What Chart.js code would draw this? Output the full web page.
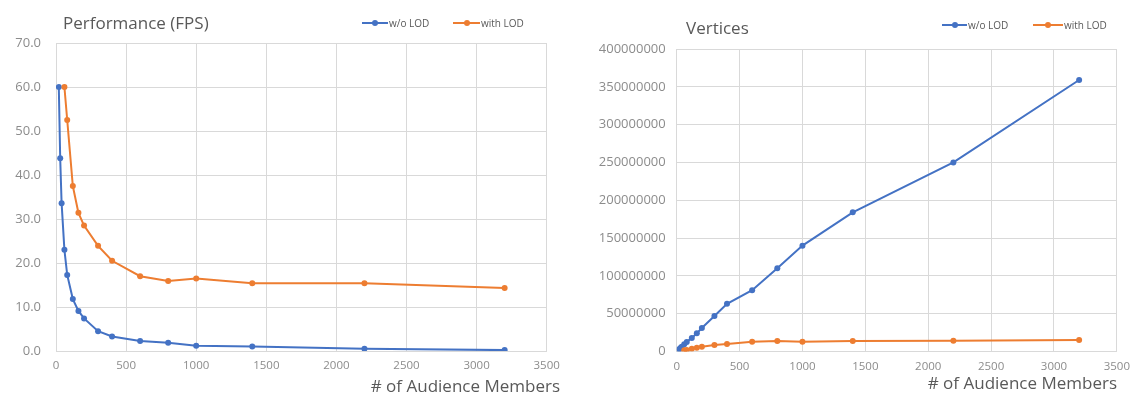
<!DOCTYPE html>
<html>
<head>
<meta charset="utf-8">
<title>LOD performance</title>
<script src="https://cdn.jsdelivr.net/npm/chart.js@4.4.0/dist/chart.umd.min.js"></script>
<style>
    body { margin: 0; background: #fff; width: 1138px; height: 400px; overflow: hidden; font-family: "Open Sans", sans-serif; }
    .panel { position: absolute; top: 0; height: 400px; }
    .title, .axis-title { position: absolute; color: #595959; font-size: 17px; line-height: 20px; white-space: nowrap; }
    .axis-title { text-align: right; }
    .legend-item { position: absolute; font-size: 10px; line-height: 12px; color: #595959; white-space: nowrap; display: flex; align-items: center; }
    .key { position: relative; display: inline-block; height: 2px; margin-right: 1px; }
    .key::after { content: ""; position: absolute; left: 50%; top: 50%; width: 6px; height: 6px; margin: -3px 0 0 -3px; border-radius: 50%; background: inherit; }
</style>
</head>
<body>
<div class="panel" style="left:0;width:570px"><canvas id="fpsChart"></canvas></div>
<div class="panel" style="left:570px;width:568px"><canvas id="vertChart"></canvas></div>

<div class="title" style="left:63px;top:13px">Performance (FPS)</div>
<div class="legend-item" style="left:362px;top:17px"><span class="key" style="width:26px;background:#4472C4"></span>w/o LOD</div>
<div class="legend-item" style="left:453px;top:17px"><span class="key" style="width:27px;background:#ED7D31"></span>with LOD</div>
<div class="axis-title" style="right:578px;top:376px"># of Audience Members</div>

<div class="title" style="left:686px;top:18px">Vertices</div>
<div class="legend-item" style="left:942px;top:19px"><span class="key" style="width:25px;background:#4472C4"></span>w/o LOD</div>
<div class="legend-item" style="left:1033px;top:19px"><span class="key" style="width:30px;background:#ED7D31"></span>with LOD</div>
<div class="axis-title" style="right:21px;top:373px"># of Audience Members</div>

<script>
// audience sizes measured (x axis)
const audience = [20, 30, 40, 60, 80, 120, 160, 200, 300, 400, 600, 800, 1000, 1400, 2200, 3200];
const audienceLod = [60, 80, 120, 160, 200, 300, 400, 600, 800, 1000, 1400, 2200, 3200];

// frames per second
const fpsNoLod = [60.0, 43.8, 33.6, 23.0, 17.3, 11.8, 9.1, 7.4, 4.5, 3.3, 2.3, 1.9, 1.2, 1.0, 0.5, 0.2];
const fpsLod = [60.0, 52.5, 37.5, 31.4, 28.5, 23.9, 20.5, 17.0, 15.9, 16.5, 15.4, 15.4, 14.3];

// vertex counts
const vertsNoLod = [3000000, 4700000, 6300000, 9500000, 12600000, 18000000, 24000000, 31000000, 47000000, 63000000, 81000000, 110000000, 140000000, 184000000, 250000000, 359000000];
const vertsLod = [1500000, 2000000, 3500000, 5000000, 6300000, 8600000, 10000000, 13000000, 13900000, 13000000, 13900000, 14300000, 15200000];

const xTicks = [0, 500, 1000, 1500, 2000, 2500, 3000, 3500];

const blue = '#4472C4';
const orange = '#ED7D31';
const gridColor = '#d9d9d9';
const tickColor = '#8c8c8c';

function toPoints(xs, ys) {
    return xs.map((x, i) => ({ x: x, y: ys[i] }));
}

function series(label, xs, ys, color, order) {
    return {
        label: label,
        data: toPoints(xs, ys),
        borderColor: color,
        backgroundColor: color,
        borderWidth: 2,
        pointRadius: 3,
        pointBorderWidth: 0,
        tension: 0,
        order: order
    };
}

function makeChart(id, datasets, opts) {
    const ctx = document.getElementById(id).getContext('2d');
    return new Chart(ctx, {
        type: 'line',
        data: { datasets: datasets },
        options: {
            responsive: true,
            maintainAspectRatio: false,
            animation: false,
            layout: { padding: { left: 0, right: opts.padRight, top: opts.padTop, bottom: 0 } },
            plugins: { legend: { display: false }, title: { display: false }, tooltip: { enabled: false } },
            scales: {
                x: {
                    type: 'linear',
                    min: 0,
                    max: 3500,
                    afterBuildTicks: scale => { scale.ticks = xTicks.map(v => ({ value: v })); },
                    afterFit: scale => { scale.height = opts.xHeight; },
                    grid: { color: gridColor, drawTicks: false },
                    border: { color: gridColor },
                    ticks: {
                        color: tickColor,
                        padding: 8,
                        maxRotation: 0,
                        font: { family: 'Open Sans', size: 11.5 },
                        callback: v => String(v)
                    }
                },
                y: {
                    min: 0,
                    max: opts.yMax,
                    afterFit: scale => { scale.width = opts.yWidth; },
                    grid: { color: gridColor, drawTicks: false },
                    border: { color: gridColor },
                    ticks: {
                        stepSize: opts.yStep,
                        color: tickColor,
                        padding: opts.yPad,
                        font: { family: 'Open Sans', size: 13 },
                        callback: opts.yFormat
                    }
                }
            }
        }
    });
}

window.addEventListener('DOMContentLoaded', event => {
    makeChart('fpsChart', [
        series('w/o LOD', audience, fpsNoLod, blue, 2),
        series('with LOD', audienceLod, fpsLod, orange, 1)
    ], {
        padRight: 23.3, padTop: 43, xHeight: 49, yWidth: 56, yPad: 15,
        yMax: 70, yStep: 10, yFormat: v => v.toFixed(1)
    });

    makeChart('vertChart', [
        series('w/o LOD', audience, vertsNoLod, blue, 2),
        series('with LOD', audienceLod, vertsLod, orange, 1)
    ], {
        padRight: 18, padTop: 49, xHeight: 48.5, yWidth: 106.7, yPad: 11,
        yMax: 400000000, yStep: 50000000, yFormat: v => String(v)
    });
});
</script>
</body>
</html>
